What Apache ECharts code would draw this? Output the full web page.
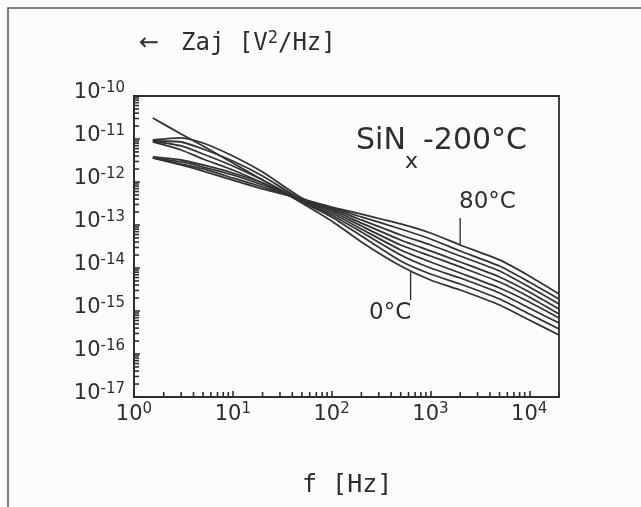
<!DOCTYPE html>
<html>
<head>
<meta charset="utf-8">
<script src="https://cdn.jsdelivr.net/npm/echarts@6/dist/echarts.min.js"></script>
<style>
  html, body { margin: 0; padding: 0; background: #fcfcfa; }
  #chart { width: 641px; height: 507px; }
</style>
</head>
<body>
<div id="chart"></div>
<script>
// Noise spectra of SiNx-200°C, 0..80°C, log-log

const freqs = [1.55, 3, 5, 10, 20, 50, 100, 200, 500, 1000, 2000, 5000, 10000, 20000]
const temps = ["0°C", "10°C", "20°C", "30°C", "40°C", "50°C", "60°C", "70°C", "80°C"]

const s0 = [3.08e-11, 1.31e-11, 6.88e-12, 2.77e-12, 1.11e-12, 3.25e-13, 1.24e-13, 4.03e-14, 1.11e-14, 5.26e-15, 3.08e-15, 1.38e-15, 6.18e-16, 2.77e-16]
const s10 = [8.52e-12, 5.55e-12, 3.43e-12, 1.90e-12, 9.48e-13, 3.43e-13, 1.54e-13, 5.55e-14, 1.46e-14, 7.25e-15, 4.25e-15, 1.90e-15, 8.52e-16, 3.82e-16]
const s20 = [8.99e-12, 6.88e-12, 4.48e-12, 2.36e-12, 1.11e-12, 3.62e-13, 1.71e-13, 6.88e-14, 2.01e-14, 1.00e-14, 5.86e-15, 2.62e-15, 1.17e-15, 5.26e-16]
const s30 = [8.99e-12, 8.52e-12, 5.86e-12, 3.08e-12, 1.38e-12, 3.82e-13, 1.90e-13, 8.07e-14, 2.62e-14, 1.38e-14, 7.65e-15, 3.43e-15, 1.62e-15, 6.88e-16]
const s40 = [9.48e-12, 1.06e-11, 8.07e-12, 4.03e-12, 1.71e-12, 4.25e-13, 2.12e-13, 9.48e-14, 3.43e-14, 1.90e-14, 1.06e-14, 4.73e-15, 2.12e-15, 8.52e-16]
const s50 = [3.82e-12, 3.25e-12, 2.49e-12, 1.62e-12, 9.48e-13, 3.62e-13, 2.23e-13, 1.11e-13, 4.48e-14, 2.49e-14, 1.38e-14, 6.18e-15, 2.77e-15, 1.11e-15]
const s60 = [3.62e-12, 2.92e-12, 2.23e-12, 1.46e-12, 8.52e-13, 3.82e-13, 2.36e-13, 1.31e-13, 5.86e-14, 3.43e-14, 1.90e-14, 8.52e-15, 3.62e-15, 1.46e-15]
const s70 = [3.62e-12, 2.62e-12, 2.01e-12, 1.24e-12, 7.65e-13, 3.82e-13, 2.49e-13, 1.54e-13, 8.07e-14, 4.73e-14, 2.49e-14, 1.11e-14, 4.73e-15, 1.90e-15]
const s80 = [3.62e-12, 2.49e-12, 1.80e-12, 1.11e-12, 6.88e-13, 4.03e-13, 2.62e-13, 1.80e-13, 1.06e-13, 6.52e-14, 3.43e-14, 1.54e-14, 6.52e-15, 2.49e-15]
const spectra = [s0, s10, s20, s30, s40, s50, s60, s70, s80]

// leader lines for the 80°C and 0°C labels
const leader80 = [[2000, 1.46e-13], [2000, 3.43e-14]]
const leader0 = [[630, 8.52e-15], [630, 1.80e-15]]

const xMin = 1, xMax = 20000
const yMin = 1e-17, yMax = 1e-10
const xDecades = [1, 10, 100, 1000, 10000]
const yDecades = [1e-17, 1e-16, 1e-15, 1e-14, 1e-13, 1e-12, 1e-11]
const minorSteps = [2, 3, 4, 5, 6, 7, 8, 9]

const INK = "#2e2e2e"
const LABEL_FONT = "DejaVu Sans"
const MONO_FONT = "DejaVu Sans Mono"

const xMinor = []
xDecades.forEach(d => minorSteps.forEach(k => { if (d * k <= xMax) xMinor.push([d * k, yMin]) }))
const yMinor = []
yDecades.forEach(d => minorSteps.forEach(k => yMinor.push([xMin, d * k])))

function powLabel(value) {
  const e = Math.log10(value)
  if (Math.abs(e - Math.round(e)) > 1e-6) return ""
  return `{b|10}{s|${Math.round(e)}}`
}

const labelRich = {
  b: {fontFamily: LABEL_FONT, fontSize: 21, lineHeight: 21, color: INK},
  s: {fontFamily: LABEL_FONT, fontSize: 15, lineHeight: 15, padding: [0, 0, 10, 0], color: INK},
}

function tickSeries(data, dx, dy) {
  return {
    type: "custom",
    silent: true,
    clip: false,
    data,
    renderItem(params, api) {
      const p = api.coord([api.value(0), api.value(1)])
      return {
        type: "line",
        shape: {x1: p[0], y1: p[1], x2: p[0] + dx, y2: p[1] + dy},
        style: {stroke: INK, lineWidth: 1.6},
      }
    },
  }
}

const lineSeries = spectra.map((vals, i) => ({
  name: temps[i],
  type: "line",
  data: freqs.map((f, j) => [f, vals[j]]),
  symbol: "none",
  smooth: 0.2,
  lineStyle: {color: "#333", width: 1.8},
}))

const leaderSeries = [leader80, leader0].map(d => ({
  type: "line",
  data: d,
  symbol: "none",
  lineStyle: {color: "#333", width: 1.4},
}))

const chart = echarts.init(document.getElementById("chart"), null, {renderer: "canvas"})
chart.setOption({
  backgroundColor: "#fcfcfa",
  animation: false,
  grid: {left: 134, right: 82, top: 96, bottom: 110, show: true, borderColor: INK, borderWidth: 1.8},
  xAxis: {
    type: "log",
    logBase: 10,
    min: xMin,
    max: xMax,
    axisLine: {lineStyle: {color: INK, width: 1.8}},
    axisTick: {inside: true, length: 6, lineStyle: {color: INK, width: 1.6}},
    splitLine: {show: false},
    axisLabel: {margin: 7, formatter: powLabel, rich: labelRich, showMaxLabel: false},
  },
  yAxis: {
    type: "log",
    logBase: 10,
    min: yMin,
    max: yMax,
    axisLine: {lineStyle: {color: INK, width: 1.8}},
    axisTick: {inside: true, length: 6, lineStyle: {color: INK, width: 1.6}},
    splitLine: {show: false},
    axisLabel: {margin: 9, formatter: powLabel, rich: labelRich, padding: [0, 0, 6, 0]},
  },
  series: [
    ...lineSeries,
    ...leaderSeries,
    tickSeries(xMinor, 0, -5),
    tickSeries(yMinor, 5, 0),
  ],
  graphic: [
    {type: "rect", silent: true, shape: {x: 8, y: 8, width: 700, height: 600},
      style: {fill: "none", stroke: "#555", lineWidth: 1.5}},
    {type: "text", silent: true, x: 139, y: 44,
      style: {text: "←", font: `24px ${LABEL_FONT}`, fill: INK, verticalAlign: "middle"}},
    {type: "text", silent: true, x: 181, y: 44,
      style: {
        text: "{m|Zaj [V}{p|2}{m|/Hz]}",
        verticalAlign: "middle",
        rich: {
          m: {fontFamily: MONO_FONT, fontSize: 24, lineHeight: 24, fill: INK},
          p: {fontFamily: MONO_FONT, fontSize: 17, lineHeight: 17, padding: [0, 0, 11, 0], fill: INK},
        },
      }},
    {type: "text", silent: true, x: 356, y: 141,
      style: {text: "SiN", font: `30px ${LABEL_FONT}`, fill: INK, verticalAlign: "middle"}},
    {type: "text", silent: true, x: 405, y: 162,
      style: {text: "x", font: `22px ${LABEL_FONT}`, fill: INK, verticalAlign: "middle"}},
    {type: "text", silent: true, x: 423, y: 141,
      style: {text: "-200°C", font: `30px ${LABEL_FONT}`, fill: INK, verticalAlign: "middle"}},
    {type: "text", silent: true, x: 459, y: 202,
      style: {text: "80°C", font: `23px ${LABEL_FONT}`, fill: INK, verticalAlign: "middle"}},
    {type: "text", silent: true, x: 369, y: 313,
      style: {text: "0°C", font: `23px ${LABEL_FONT}`, fill: INK, verticalAlign: "middle"}},
    {type: "text", silent: true, x: 302, y: 485,
      style: {text: "f [Hz]", font: `25px ${MONO_FONT}`, fill: INK, verticalAlign: "middle"}},
  ],
})
</script>
</body>
</html>
